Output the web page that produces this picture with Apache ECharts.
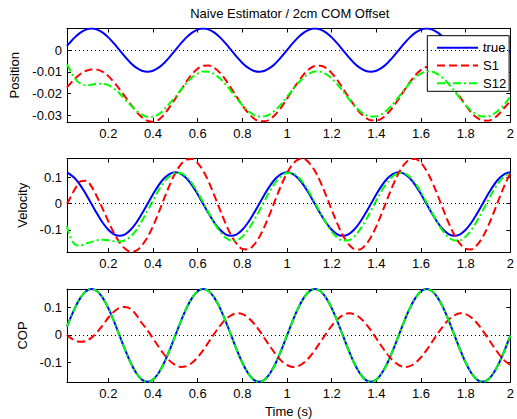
<!DOCTYPE html>
<html>
<head>
<meta charset="utf-8">
<script src="https://cdn.jsdelivr.net/npm/echarts@6/dist/echarts.min.js"></script>
<style>html,body{margin:0;padding:0;background:#fff;}#c{width:517px;height:419px;}</style>
</head>
<body>
<div id="c"></div>
<script>
// ---- data ----
const T = [0.015,
0.025,0.05,0.075,0.1,0.125,0.15,0.175,0.2,0.225,0.25,0.275,0.3,0.325,0.35,0.375,0.4,0.425,0.45,0.475,0.5,
0.525,0.55,0.575,0.6,0.625,0.65,0.675,0.7,0.725,0.75,0.775,0.8,0.825,0.85,0.875,0.9,0.925,0.95,0.975,1.0,
1.025,1.05,1.075,1.1,1.125,1.15,1.175,1.2,1.225,1.25,1.275,1.3,1.325,1.35,1.375,1.4,1.425,1.45,1.475,1.5,
1.525,1.55,1.575,1.6,1.625,1.65,1.675,1.7,1.725,1.75,1.775,1.8,1.825,1.85,1.875,1.9,1.925,1.95,1.975,2.0];

const posTrue = [0.0019,
0.0031,0.0059,0.0081,0.0095,0.0100,0.0095,0.0081,0.0059,0.0031,0.0000,-0.0031,-0.0059,-0.0081,-0.0095,-0.0100,-0.0095,-0.0081,-0.0059,-0.0031,0.0000,
0.0031,0.0059,0.0081,0.0095,0.0100,0.0095,0.0081,0.0059,0.0031,0.0000,-0.0031,-0.0059,-0.0081,-0.0095,-0.0100,-0.0095,-0.0081,-0.0059,-0.0031,0.0000,
0.0031,0.0059,0.0081,0.0095,0.0100,0.0095,0.0081,0.0059,0.0031,0.0000,-0.0031,-0.0059,-0.0081,-0.0095,-0.0100,-0.0095,-0.0081,-0.0059,-0.0031,0.0000,
0.0031,0.0059,0.0081,0.0095,0.0100,0.0095,0.0081,0.0059,0.0031,0.0000,-0.0031,-0.0059,-0.0081,-0.0095,-0.0100,-0.0095,-0.0081,-0.0059,-0.0031,0.0000];

const posS1 = [-0.0172,
-0.0160,-0.0132,-0.0110,-0.0096,-0.0089,-0.0090,-0.0100,-0.0120,-0.0148,-0.0180,-0.0215,-0.0250,-0.0283,-0.0310,-0.0326,-0.0331,-0.0322,-0.0297,-0.0262,-0.0224,
-0.0184,-0.0145,-0.0111,-0.0086,-0.0072,-0.0071,-0.0082,-0.0105,-0.0137,-0.0176,-0.0216,-0.0255,-0.0289,-0.0314,-0.0328,-0.0329,-0.0318,-0.0295,-0.0263,-0.0224,
-0.0184,-0.0146,-0.0112,-0.0087,-0.0073,-0.0072,-0.0083,-0.0106,-0.0138,-0.0177,-0.0216,-0.0254,-0.0287,-0.0311,-0.0324,-0.0325,-0.0315,-0.0293,-0.0262,-0.0224,
-0.0186,-0.0148,-0.0115,-0.0091,-0.0078,-0.0077,-0.0087,-0.0109,-0.0140,-0.0178,-0.0217,-0.0255,-0.0288,-0.0312,-0.0325,-0.0326,-0.0316,-0.0294,-0.0264,-0.0235];

const posS12 = [-0.0065,
-0.0085,-0.0130,-0.0155,-0.0162,-0.0160,-0.0155,-0.0155,-0.0162,-0.0178,-0.0200,-0.0228,-0.0255,-0.0280,-0.0298,-0.0308,-0.0308,-0.0297,-0.0275,-0.0245,-0.0216,
-0.0183,-0.0152,-0.0126,-0.0108,-0.0099,-0.0100,-0.0111,-0.0131,-0.0158,-0.0190,-0.0223,-0.0254,-0.0280,-0.0298,-0.0307,-0.0306,-0.0295,-0.0275,-0.0248,-0.0216,
-0.0183,-0.0152,-0.0126,-0.0108,-0.0099,-0.0100,-0.0111,-0.0131,-0.0158,-0.0190,-0.0223,-0.0254,-0.0280,-0.0298,-0.0307,-0.0306,-0.0295,-0.0275,-0.0248,-0.0216,
-0.0183,-0.0152,-0.0126,-0.0108,-0.0099,-0.0100,-0.0111,-0.0131,-0.0158,-0.0190,-0.0223,-0.0254,-0.0280,-0.0298,-0.0307,-0.0306,-0.0295,-0.0275,-0.0248,-0.0214];

const velTrue = [0.118,
0.114,0.097,0.070,0.036,-0.0015,-0.039,-0.073,-0.100,-0.117,-0.123,-0.117,-0.100,-0.073,-0.039,-0.0015,0.036,0.070,0.097,0.114,0.120,
0.114,0.097,0.070,0.036,-0.0015,-0.039,-0.073,-0.100,-0.117,-0.123,-0.117,-0.100,-0.073,-0.039,-0.0015,0.036,0.070,0.097,0.114,0.120,
0.114,0.097,0.070,0.036,-0.0015,-0.039,-0.073,-0.100,-0.117,-0.123,-0.117,-0.100,-0.073,-0.039,-0.0015,0.036,0.070,0.097,0.114,0.120,
0.114,0.097,0.070,0.036,-0.0015,-0.039,-0.073,-0.100,-0.117,-0.123,-0.117,-0.100,-0.073,-0.039,-0.0015,0.036,0.070,0.097,0.114,0.120];

const velS1 = [0.000,
0.015,0.055,0.085,0.088,0.065,0.025,-0.020,-0.068,-0.112,-0.148,-0.172,-0.184,-0.180,-0.160,-0.129,-0.086,-0.035,0.020,0.072,0.117,
0.150,0.169,0.171,0.155,0.125,0.082,0.031,-0.024,-0.076,-0.121,-0.154,-0.173,-0.175,-0.159,-0.129,-0.086,-0.035,0.020,0.072,0.117,
0.150,0.169,0.171,0.155,0.125,0.082,0.031,-0.024,-0.076,-0.121,-0.154,-0.173,-0.175,-0.159,-0.129,-0.086,-0.035,0.020,0.072,0.117,
0.150,0.169,0.171,0.155,0.125,0.082,0.031,-0.024,-0.076,-0.121,-0.154,-0.173,-0.175,-0.159,-0.129,-0.086,-0.035,0.020,0.072,0.117];

const velS12 = [-0.085,
-0.118,-0.155,-0.160,-0.153,-0.146,-0.140,-0.138,-0.140,-0.144,-0.145,-0.140,-0.126,-0.101,-0.067,-0.028,0.012,0.051,0.083,0.106,0.117,
0.116,0.102,0.077,0.043,0.004,-0.036,-0.075,-0.107,-0.130,-0.141,-0.140,-0.126,-0.101,-0.067,-0.028,0.012,0.051,0.083,0.106,0.117,
0.116,0.102,0.077,0.043,0.004,-0.036,-0.075,-0.107,-0.130,-0.141,-0.140,-0.126,-0.101,-0.067,-0.028,0.012,0.051,0.083,0.106,0.117,
0.116,0.102,0.077,0.043,0.004,-0.036,-0.075,-0.107,-0.130,-0.141,-0.140,-0.126,-0.101,-0.067,-0.028,0.012,0.051,0.083,0.106,0.117];

const copTrue = [0.0295,
0.050,0.097,0.134,0.158,0.166,0.158,0.134,0.097,0.050,-0.002,-0.054,-0.101,-0.138,-0.162,-0.170,-0.162,-0.138,-0.101,-0.054,-0.002,
0.050,0.097,0.134,0.158,0.166,0.158,0.134,0.097,0.050,-0.002,-0.054,-0.101,-0.138,-0.162,-0.170,-0.162,-0.138,-0.101,-0.054,-0.002,
0.050,0.097,0.134,0.158,0.166,0.158,0.134,0.097,0.050,-0.002,-0.054,-0.101,-0.138,-0.162,-0.170,-0.162,-0.138,-0.101,-0.054,-0.002,
0.050,0.097,0.134,0.158,0.166,0.158,0.134,0.097,0.050,-0.002,-0.054,-0.101,-0.138,-0.162,-0.170,-0.162,-0.138,-0.101,-0.054,-0.002];

const copS1 = [0.000,
-0.008,-0.020,-0.025,-0.022,-0.010,0.010,0.035,0.062,0.084,0.098,0.101,0.094,0.072,0.043,0.017,-0.013,-0.043,-0.071,-0.094,-0.109,
-0.116,-0.113,-0.101,-0.081,-0.055,-0.025,0.005,0.033,0.056,0.071,0.078,0.075,0.063,0.043,0.017,-0.013,-0.043,-0.071,-0.094,-0.109,
-0.116,-0.113,-0.101,-0.081,-0.055,-0.025,0.005,0.033,0.056,0.071,0.078,0.075,0.063,0.043,0.017,-0.013,-0.043,-0.071,-0.094,-0.109,
-0.116,-0.113,-0.101,-0.081,-0.055,-0.025,0.005,0.033,0.056,0.071,0.078,0.075,0.063,0.043,0.017,-0.013,-0.043,-0.071,-0.094,-0.109];

const copS12 = [0.0295,
0.050,0.097,0.134,0.158,0.166,0.158,0.134,0.097,0.050,-0.002,-0.054,-0.101,-0.138,-0.162,-0.170,-0.162,-0.138,-0.101,-0.054,-0.002,
0.050,0.097,0.134,0.158,0.166,0.158,0.134,0.097,0.050,-0.002,-0.054,-0.101,-0.138,-0.162,-0.170,-0.162,-0.138,-0.101,-0.054,-0.002,
0.050,0.097,0.134,0.158,0.166,0.158,0.134,0.097,0.050,-0.002,-0.054,-0.101,-0.138,-0.162,-0.170,-0.162,-0.138,-0.101,-0.054,-0.002,
0.050,0.097,0.134,0.158,0.166,0.158,0.134,0.097,0.050,-0.002,-0.054,-0.101,-0.138,-0.162,-0.170,-0.162,-0.138,-0.101,-0.054,-0.002];

const xTicks = [0.2,0.4,0.6,0.8,1,1.2,1.4,1.6,1.8,2];
const posTicks = [-0.03,-0.02,-0.01,0];
const velTicks = [-0.1,0,0.1];
const copTicks = [-0.1,0,0.1];
const seriesNames = ['true','S1','S12'];
const panelNames = ['Position','Velocity','COP'];
const titleText = 'Naive Estimator / 2cm COM Offset';
const xName = 'Time (s)';

// ---- layout / style ----
const FONT = 'Liberation Sans, Arial, Helvetica, sans-serif';
const panels = [
  {top: 28.5, height: 93.5, ymin: -0.0332, ymax: 0.0100, ticks: posTicks, nameGap: 40, data: [posTrue, posS1, posS12]},
  {top: 158.5, height: 93.5, ymin: -0.1848, ymax: 0.1726, ticks: velTicks, nameGap: 35.5, data: [velTrue, velS1, velS12]},
  {top: 289, height: 93, ymin: -0.1705, ymax: 0.166, ticks: copTicks, nameGap: 35.5, data: [copTrue, copS1, copS12]}
];
const styles = [
  {color: '#0000ff', type: 'solid'},
  {color: '#ff0000', type: [8, 4]},
  {color: '#00ff00', type: [8, 3, 2, 3]}
];
function pairs(v) { return T.map((t, i) => [t, v[i]]); }
const fmtX = v => String(Math.round(v * 10) / 10);
const fmtY = v => String(Math.round(v * 1000) / 1000);
const axLine = {show: true, onZero: false, lineStyle: {color: '#000', width: 1}};

const grid = [], xAxis = [], yAxis = [], series = [];
panels.forEach((p, i) => {
  grid.push({left: 67, right: 4.5, top: p.top, height: p.height, containLabel: false});
  const xb = {
    type: 'value', gridIndex: i, min: 0.015, max: 2, position: 'bottom',
    axisLine: axLine, splitLine: {show: false},
    axisTick: {show: true, inside: true, length: 4, customValues: xTicks, lineStyle: {color: '#000'}},
    axisLabel: {show: true, customValues: xTicks, formatter: fmtX, color: '#000', fontSize: 13, fontFamily: FONT, margin: 5}
  };
  if (i === 2) {
    xb.name = xName; xb.nameLocation = 'middle'; xb.nameGap = 23;
    xb.nameTextStyle = {color: '#000', fontSize: 13, fontFamily: FONT};
  }
  xAxis.push(xb);
  xAxis.push({
    type: 'value', gridIndex: i, min: 0.015, max: 2, position: 'top',
    axisLine: axLine, splitLine: {show: false},
    axisTick: {show: true, inside: true, length: 4, customValues: xTicks, lineStyle: {color: '#000'}},
    axisLabel: {show: false}
  });
  yAxis.push({
    type: 'value', gridIndex: i, min: p.ymin, max: p.ymax, position: 'left',
    name: panelNames[i], nameLocation: 'middle', nameGap: p.nameGap,
    nameTextStyle: {color: '#000', fontSize: 13, fontFamily: FONT},
    axisLine: axLine, splitLine: {show: false},
    axisTick: {show: true, inside: true, length: 4, customValues: p.ticks, lineStyle: {color: '#000'}},
    axisLabel: {show: true, customValues: p.ticks, formatter: fmtY, color: '#000', fontSize: 13, fontFamily: FONT, margin: 5}
  });
  yAxis.push({
    type: 'value', gridIndex: i, min: p.ymin, max: p.ymax, position: 'right',
    axisLine: axLine, splitLine: {show: false},
    axisTick: {show: true, inside: true, length: 4, customValues: p.ticks, lineStyle: {color: '#000'}},
    axisLabel: {show: false}
  });
  p.data.forEach((arr, k) => {
    const s = {
      type: 'line', name: seriesNames[k], xAxisIndex: 2 * i, yAxisIndex: 2 * i,
      data: pairs(arr), showSymbol: false, symbol: 'none', smooth: 0.35,
      clip: true, animation: false, z: 2 + k,
      lineStyle: {color: styles[k].color, width: 2, type: styles[k].type},
      itemStyle: {color: styles[k].color}
    };
    if (k === 0) {
      s.markLine = {
        silent: true, symbol: 'none', animation: false,
        label: {show: false},
        lineStyle: {color: '#000', width: 1, type: [1, 3]},
        data: [{yAxis: 0}]
      };
    }
    series.push(s);
  });
});

const chart = echarts.init(document.getElementById('c'), null, {renderer: 'svg', width: 517, height: 419});
chart.setOption({
  backgroundColor: '#fff',
  animation: false,
  graphic: [{
    type: 'text', x: 289.7, y: 13,
    style: {text: titleText, fill: '#000', fontSize: 13, fontFamily: FONT, align: 'center', verticalAlign: 'middle'}
  }],
  legend: {
    data: seriesNames, orient: 'vertical', left: 427.3, top: 35.7,
    padding: [5.5, 3, 1.5, 8.7], itemGap: 4.8, itemWidth: 41, itemHeight: 13,
    borderColor: '#000', borderWidth: 1, backgroundColor: '#fff', borderRadius: 0,
    itemStyle: {opacity: 0},
    textStyle: {color: '#000', fontSize: 13, fontFamily: FONT},
    selectedMode: false
  },
  grid, xAxis, yAxis, series
});
</script>
</body>
</html>
